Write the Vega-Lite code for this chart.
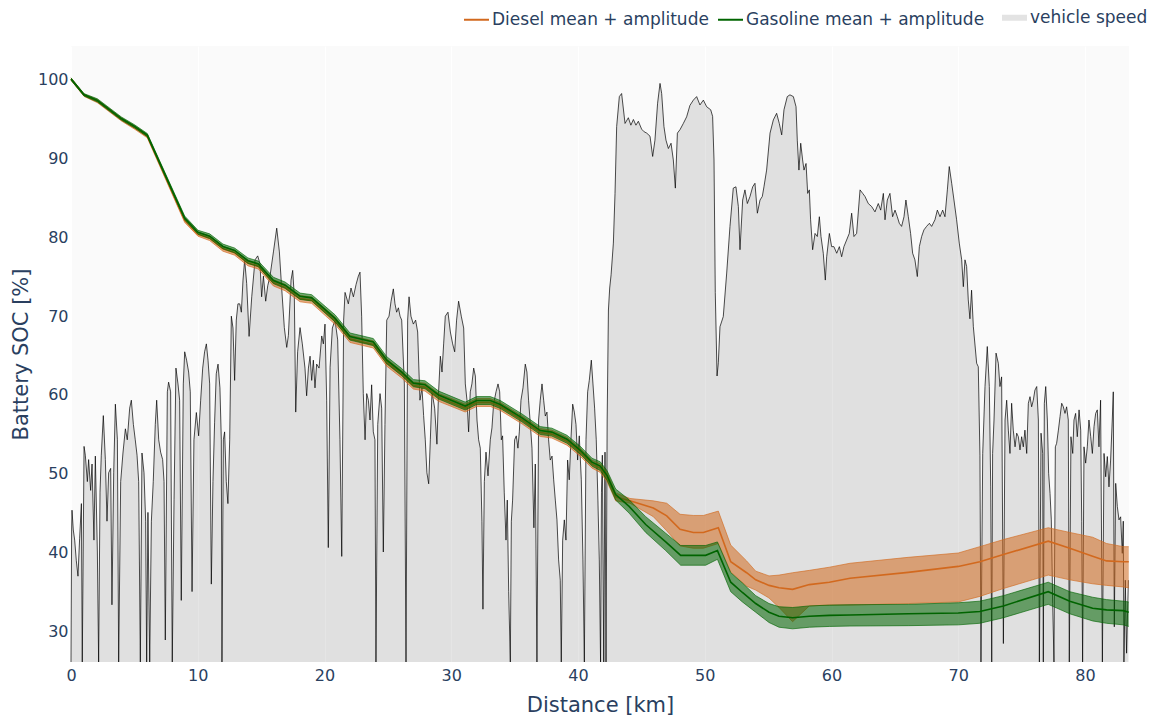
{
  "$schema": "https://vega.github.io/schema/vega-lite/v6.json",
  "width": 1058,
  "height": 616,
  "autosize": {"type": "none"},
  "padding": {"left": 71, "top": 46, "right": 34, "bottom": 55},
  "background": "#ffffff",
  "config": {
    "view": {"fill": "#fafafa", "stroke": null},
    "axis": {
      "domain": false,
      "ticks": false,
      "labelColor": "#2a3f5f",
      "labelFont": "DejaVu Sans",
      "labelFontSize": 16,
      "titleColor": "#2a3f5f",
      "titleFont": "DejaVu Sans",
      "titleFontSize": 21,
      "titleFontWeight": "normal"
    }
  },
  "datasets": {
    "diesel": [
      {"km": 0, "mean": 100, "lo": 99.85, "hi": 100.15},
      {"km": 1.03, "mean": 97.95, "lo": 97.8, "hi": 98.1},
      {"km": 2.08, "mean": 97.2, "lo": 97.0, "hi": 97.4},
      {"km": 3.97, "mean": 94.9, "lo": 94.7, "hi": 95.1},
      {"km": 5.02, "mean": 93.85, "lo": 93.65, "hi": 94.05},
      {"km": 6.02, "mean": 92.75, "lo": 92.55, "hi": 92.95},
      {"km": 8.97, "mean": 82.1, "lo": 81.85, "hi": 82.35},
      {"km": 10.02, "mean": 80.35, "lo": 80.1, "hi": 80.6},
      {"km": 10.94, "mean": 79.85, "lo": 79.55, "hi": 80.15},
      {"km": 11.99, "mean": 78.5, "lo": 78.2, "hi": 78.8},
      {"km": 12.91, "mean": 78.0, "lo": 77.7, "hi": 78.3},
      {"km": 13.96, "mean": 76.7, "lo": 76.35, "hi": 77.05},
      {"km": 14.78, "mean": 76.3, "lo": 75.95, "hi": 76.65},
      {"km": 15.97, "mean": 74.2, "lo": 73.8, "hi": 74.6},
      {"km": 16.89, "mean": 73.6, "lo": 73.2, "hi": 74.0},
      {"km": 18.07, "mean": 72.2, "lo": 71.8, "hi": 72.6},
      {"km": 18.99, "mean": 72.0, "lo": 71.6, "hi": 72.4},
      {"km": 20.83, "mean": 69.4, "lo": 68.95, "hi": 69.85},
      {"km": 22.01, "mean": 67.1, "lo": 66.65, "hi": 67.55},
      {"km": 23.85, "mean": 66.4, "lo": 65.95, "hi": 66.85},
      {"km": 24.91, "mean": 64.1, "lo": 63.65, "hi": 64.55},
      {"km": 26.09, "mean": 62.6, "lo": 62.15, "hi": 63.05},
      {"km": 27.01, "mean": 61.2, "lo": 60.75, "hi": 61.65},
      {"km": 27.93, "mean": 61.0, "lo": 60.5, "hi": 61.5},
      {"km": 29.0, "mean": 59.7, "lo": 59.2, "hi": 60.2},
      {"km": 31.1, "mean": 58.35, "lo": 57.85, "hi": 58.85},
      {"km": 32.0, "mean": 59.05, "lo": 58.55, "hi": 59.55},
      {"km": 33.08, "mean": 59.05, "lo": 58.55, "hi": 59.55},
      {"km": 33.87, "mean": 58.55, "lo": 58.05, "hi": 59.05},
      {"km": 35.58, "mean": 56.85, "lo": 56.35, "hi": 57.35},
      {"km": 37.02, "mean": 55.25, "lo": 54.75, "hi": 55.75},
      {"km": 37.94, "mean": 55.05, "lo": 54.55, "hi": 55.55},
      {"km": 39.13, "mean": 54.15, "lo": 53.65, "hi": 54.65},
      {"km": 40.18, "mean": 52.75, "lo": 52.25, "hi": 53.25},
      {"km": 41.1, "mean": 51.25, "lo": 50.75, "hi": 51.75},
      {"km": 41.75, "mean": 50.75, "lo": 50.2, "hi": 51.3},
      {"km": 42.3, "mean": 49.6, "lo": 49.0, "hi": 50.2},
      {"km": 42.97, "mean": 47.1, "lo": 46.6, "hi": 47.6},
      {"km": 44.1, "mean": 46.6, "lo": 46.3, "hi": 46.9},
      {"km": 45.94, "mean": 45.7, "lo": 44.6, "hi": 46.6},
      {"km": 47.0, "mean": 44.7, "lo": 42.8, "hi": 46.3},
      {"km": 48.05, "mean": 43.0, "lo": 40.9, "hi": 44.9},
      {"km": 49.1, "mean": 42.6, "lo": 40.6, "hi": 44.75},
      {"km": 49.89, "mean": 42.6, "lo": 40.6, "hi": 44.75},
      {"km": 51.07, "mean": 43.2, "lo": 41.2, "hi": 45.3},
      {"km": 52.05, "mean": 38.9, "lo": 37.6, "hi": 41.0},
      {"km": 53.3, "mean": 37.5, "lo": 35.8, "hi": 39.0},
      {"km": 54.02, "mean": 36.6, "lo": 35.3, "hi": 37.7},
      {"km": 55.07, "mean": 35.9, "lo": 34.3, "hi": 37.1},
      {"km": 55.86, "mean": 35.6, "lo": 33.1, "hi": 37.2},
      {"km": 56.93, "mean": 35.4, "lo": 31.3, "hi": 37.5},
      {"km": 58.25, "mean": 36.0, "lo": 33.3, "hi": 37.8},
      {"km": 59.83, "mean": 36.3, "lo": 33.4, "hi": 38.2},
      {"km": 61.46, "mean": 36.8, "lo": 33.4, "hi": 38.7},
      {"km": 66.05, "mean": 37.55, "lo": 33.6, "hi": 39.45},
      {"km": 70.0, "mean": 38.3, "lo": 33.8, "hi": 40.0},
      {"km": 71.7, "mean": 38.9, "lo": 34.5, "hi": 40.8},
      {"km": 73.56, "mean": 39.8, "lo": 35.5, "hi": 41.7},
      {"km": 77.1, "mean": 41.5, "lo": 37.2, "hi": 43.2},
      {"km": 78.8, "mean": 40.6, "lo": 36.6, "hi": 42.6},
      {"km": 80.6, "mean": 39.6, "lo": 36.1, "hi": 42.0},
      {"km": 81.7, "mean": 39.0, "lo": 35.9, "hi": 41.2},
      {"km": 83.02, "mean": 38.9, "lo": 35.7, "hi": 40.8},
      {"km": 83.45, "mean": 38.9, "lo": 35.6, "hi": 40.8}
    ],
    "gasoline": [
      {"km": 0, "mean": 100, "lo": 99.85, "hi": 100.15},
      {"km": 1.03, "mean": 98.0, "lo": 97.85, "hi": 98.15},
      {"km": 2.08, "mean": 97.3, "lo": 97.1, "hi": 97.5},
      {"km": 3.97, "mean": 95.0, "lo": 94.8, "hi": 95.2},
      {"km": 5.02, "mean": 94.0, "lo": 93.8, "hi": 94.2},
      {"km": 6.02, "mean": 92.9, "lo": 92.7, "hi": 93.1},
      {"km": 8.97, "mean": 82.4, "lo": 82.15, "hi": 82.65},
      {"km": 10.02, "mean": 80.6, "lo": 80.35, "hi": 80.85},
      {"km": 10.94, "mean": 80.1, "lo": 79.8, "hi": 80.4},
      {"km": 11.99, "mean": 78.8, "lo": 78.5, "hi": 79.1},
      {"km": 12.91, "mean": 78.3, "lo": 78.0, "hi": 78.6},
      {"km": 13.96, "mean": 77.0, "lo": 76.65, "hi": 77.35},
      {"km": 14.78, "mean": 76.6, "lo": 76.25, "hi": 76.95},
      {"km": 15.97, "mean": 74.5, "lo": 74.1, "hi": 74.9},
      {"km": 16.89, "mean": 73.9, "lo": 73.5, "hi": 74.3},
      {"km": 18.07, "mean": 72.5, "lo": 72.1, "hi": 72.9},
      {"km": 18.99, "mean": 72.3, "lo": 71.9, "hi": 72.7},
      {"km": 20.83, "mean": 69.7, "lo": 69.25, "hi": 70.15},
      {"km": 22.01, "mean": 67.4, "lo": 66.95, "hi": 67.85},
      {"km": 23.85, "mean": 66.7, "lo": 66.25, "hi": 67.15},
      {"km": 24.91, "mean": 64.4, "lo": 63.95, "hi": 64.85},
      {"km": 26.09, "mean": 62.9, "lo": 62.45, "hi": 63.35},
      {"km": 27.01, "mean": 61.5, "lo": 61.05, "hi": 61.95},
      {"km": 27.93, "mean": 61.3, "lo": 60.8, "hi": 61.8},
      {"km": 29.0, "mean": 60.0, "lo": 59.5, "hi": 60.5},
      {"km": 31.1, "mean": 58.6, "lo": 58.1, "hi": 59.1},
      {"km": 32.0, "mean": 59.3, "lo": 58.8, "hi": 59.8},
      {"km": 33.08, "mean": 59.3, "lo": 58.8, "hi": 59.8},
      {"km": 33.87, "mean": 58.8, "lo": 58.3, "hi": 59.3},
      {"km": 35.58, "mean": 57.1, "lo": 56.6, "hi": 57.6},
      {"km": 37.02, "mean": 55.5, "lo": 55.0, "hi": 56.0},
      {"km": 37.94, "mean": 55.3, "lo": 54.8, "hi": 55.8},
      {"km": 39.13, "mean": 54.4, "lo": 53.9, "hi": 54.9},
      {"km": 40.18, "mean": 53.0, "lo": 52.5, "hi": 53.5},
      {"km": 41.1, "mean": 51.5, "lo": 51.0, "hi": 52.0},
      {"km": 41.75, "mean": 51.0, "lo": 50.45, "hi": 51.55},
      {"km": 42.3, "mean": 49.8, "lo": 49.2, "hi": 50.4},
      {"km": 42.97, "mean": 47.4, "lo": 46.7, "hi": 48.1},
      {"km": 44.03, "mean": 45.9, "lo": 45.05, "hi": 46.75},
      {"km": 45.34, "mean": 43.6, "lo": 42.6, "hi": 44.6},
      {"km": 46.92, "mean": 41.4, "lo": 40.3, "hi": 42.5},
      {"km": 48.1, "mean": 39.7, "lo": 38.45, "hi": 40.95},
      {"km": 50.07, "mean": 39.7, "lo": 38.45, "hi": 40.95},
      {"km": 51.0, "mean": 40.3, "lo": 39.2, "hi": 41.4},
      {"km": 52.05, "mean": 36.3, "lo": 35.1, "hi": 37.5},
      {"km": 52.97, "mean": 35.0, "lo": 33.8, "hi": 36.2},
      {"km": 54.02, "mean": 33.6, "lo": 32.5, "hi": 34.6},
      {"km": 55.07, "mean": 32.5, "lo": 31.2, "hi": 33.6},
      {"km": 55.86, "mean": 32.0, "lo": 30.6, "hi": 33.2},
      {"km": 56.93, "mean": 31.8, "lo": 30.4, "hi": 33.1},
      {"km": 58.25, "mean": 32.0, "lo": 30.6, "hi": 33.3},
      {"km": 59.83, "mean": 32.1, "lo": 30.7, "hi": 33.4},
      {"km": 61.46, "mean": 32.15, "lo": 30.75, "hi": 33.45},
      {"km": 66.05, "mean": 32.3, "lo": 30.8, "hi": 33.5},
      {"km": 70.0, "mean": 32.4, "lo": 30.9, "hi": 33.7},
      {"km": 71.7, "mean": 32.6, "lo": 31.1, "hi": 33.9},
      {"km": 73.56, "mean": 33.3, "lo": 31.8, "hi": 34.6},
      {"km": 77.1, "mean": 35.1, "lo": 33.5, "hi": 36.3},
      {"km": 78.8, "mean": 33.9, "lo": 32.3, "hi": 35.1},
      {"km": 80.6, "mean": 33.0, "lo": 31.4, "hi": 34.4},
      {"km": 81.7, "mean": 32.8, "lo": 31.1, "hi": 34.1},
      {"km": 83.02, "mean": 32.7, "lo": 30.9, "hi": 33.9},
      {"km": 83.45, "mean": 32.5, "lo": 30.7, "hi": 33.8}
    ],
    "speed": [
      {"km": 0, "v": 0}, {"km": 0.05, "v": 30}, {"km": 0.08, "v": 34.5}, {"km": 0.18, "v": 30}, {"km": 0.29, "v": 27.7}, {"km": 0.42, "v": 23}, {"km": 0.55, "v": 19.5}, {"km": 0.68, "v": 28}, {"km": 0.82, "v": 36}, {"km": 0.89, "v": 0},
      {"km": 1.03, "v": 49}, {"km": 1.13, "v": 47}, {"km": 1.29, "v": 41}, {"km": 1.39, "v": 46}, {"km": 1.55, "v": 39}, {"km": 1.66, "v": 45}, {"km": 1.81, "v": 27.7}, {"km": 1.92, "v": 46.8}, {"km": 2.08, "v": 25}, {"km": 2.18, "v": 0},
      {"km": 2.29, "v": 38.6}, {"km": 2.39, "v": 47}, {"km": 2.55, "v": 56}, {"km": 2.71, "v": 46}, {"km": 2.84, "v": 32}, {"km": 2.97, "v": 43}, {"km": 3.13, "v": 44}, {"km": 3.23, "v": 13}, {"km": 3.37, "v": 43}, {"km": 3.5, "v": 58.6},
      {"km": 3.66, "v": 50.5}, {"km": 3.76, "v": 0}, {"km": 3.92, "v": 41}, {"km": 4.1, "v": 47.5}, {"km": 4.29, "v": 53}, {"km": 4.44, "v": 50.5}, {"km": 4.63, "v": 57.7}, {"km": 4.76, "v": 59.5}, {"km": 4.92, "v": 54}, {"km": 5.07, "v": 50.5},
      {"km": 5.21, "v": 47}, {"km": 5.34, "v": 41}, {"km": 5.47, "v": 0}, {"km": 5.6, "v": 47.5}, {"km": 5.76, "v": 43}, {"km": 5.89, "v": 32}, {"km": 5.97, "v": 0}, {"km": 6.07, "v": 34}, {"km": 6.21, "v": 0}, {"km": 6.34, "v": 32},
      {"km": 6.49, "v": 41}, {"km": 6.65, "v": 54}, {"km": 6.76, "v": 59.5}, {"km": 6.92, "v": 50.5}, {"km": 7.07, "v": 47.7}, {"km": 7.23, "v": 46}, {"km": 7.34, "v": 41}, {"km": 7.44, "v": 5}, {"km": 7.6, "v": 61.4}, {"km": 7.7, "v": 63.6},
      {"km": 7.86, "v": 61.4}, {"km": 7.99, "v": 0}, {"km": 8.13, "v": 37}, {"km": 8.28, "v": 66.8}, {"km": 8.44, "v": 63.2}, {"km": 8.57, "v": 59.5}, {"km": 8.7, "v": 14}, {"km": 8.86, "v": 63.2}, {"km": 8.97, "v": 70.5}, {"km": 9.12, "v": 68.6},
      {"km": 9.28, "v": 65.9}, {"km": 9.41, "v": 61.4}, {"km": 9.55, "v": 16}, {"km": 9.7, "v": 50.5}, {"km": 9.89, "v": 56.7}, {"km": 10.07, "v": 51.4}, {"km": 10.23, "v": 59.5}, {"km": 10.39, "v": 66.8}, {"km": 10.54, "v": 70.5}, {"km": 10.68, "v": 72.3},
      {"km": 10.81, "v": 68.6}, {"km": 10.94, "v": 63.2}, {"km": 11.07, "v": 17.7}, {"km": 11.2, "v": 41}, {"km": 11.33, "v": 54.5}, {"km": 11.46, "v": 65.5}, {"km": 11.6, "v": 67.7}, {"km": 11.75, "v": 62.3}, {"km": 11.86, "v": 50.5}, {"km": 11.91, "v": 0},
      {"km": 12.02, "v": 50.5}, {"km": 12.12, "v": 52.3}, {"km": 12.25, "v": 41}, {"km": 12.38, "v": 36}, {"km": 12.52, "v": 50.5}, {"km": 12.65, "v": 78.6}, {"km": 12.78, "v": 75.9}, {"km": 12.91, "v": 64}, {"km": 13.04, "v": 77.7}, {"km": 13.17, "v": 81.4},
      {"km": 13.31, "v": 81.4}, {"km": 13.44, "v": 79.5}, {"km": 13.57, "v": 86.8}, {"km": 13.7, "v": 91.4},
      {"km": 13.86, "v": 86}, {"km": 14.05, "v": 74}, {"km": 14.26, "v": 83}, {"km": 14.52, "v": 91.4}, {"km": 14.73, "v": 92.3}, {"km": 14.91, "v": 90.5}, {"km": 15.04, "v": 83}, {"km": 15.18, "v": 87.7}, {"km": 15.36, "v": 82}, {"km": 15.52, "v": 85.5},
      {"km": 15.7, "v": 87.7}, {"km": 15.97, "v": 93.2}, {"km": 16.23, "v": 98.6}, {"km": 16.44, "v": 93.2}, {"km": 16.62, "v": 85}, {"km": 16.83, "v": 76}, {"km": 17.02, "v": 71.5}, {"km": 17.15, "v": 74.2}, {"km": 17.36, "v": 86.8}, {"km": 17.49, "v": 89},
      {"km": 17.62, "v": 83}, {"km": 17.73, "v": 56.8}, {"km": 17.88, "v": 70.5}, {"km": 18.07, "v": 76}, {"km": 18.25, "v": 72.3}, {"km": 18.46, "v": 66.8}, {"km": 18.59, "v": 60.5}, {"km": 18.73, "v": 66.8}, {"km": 18.86, "v": 69.5}, {"km": 18.99, "v": 64},
      {"km": 19.12, "v": 68.6}, {"km": 19.25, "v": 62.3}, {"km": 19.38, "v": 67.7}, {"km": 19.57, "v": 66.8}, {"km": 19.78, "v": 74.1}, {"km": 19.91, "v": 72.3}, {"km": 20.04, "v": 76.8}, {"km": 20.17, "v": 59.5}, {"km": 20.3, "v": 26}, {"km": 20.44, "v": 67},
      {"km": 20.62, "v": 75.9}, {"km": 20.83, "v": 77.7}, {"km": 21.04, "v": 73.2}, {"km": 21.22, "v": 50.5}, {"km": 21.36, "v": 24}, {"km": 21.51, "v": 77.7}, {"km": 21.62, "v": 84}, {"km": 21.88, "v": 81.4}, {"km": 22.09, "v": 85}, {"km": 22.28, "v": 83},
      {"km": 22.49, "v": 85.8}, {"km": 22.67, "v": 87.7}, {"km": 22.8, "v": 88.6}, {"km": 22.93, "v": 78.6}, {"km": 23.06, "v": 61}, {"km": 23.2, "v": 50.5}, {"km": 23.33, "v": 61}, {"km": 23.46, "v": 59.5}, {"km": 23.59, "v": 55}, {"km": 23.72, "v": 63},
      {"km": 23.85, "v": 52.3}, {"km": 23.98, "v": 50.5}, {"km": 24.06, "v": 0}, {"km": 24.2, "v": 54}, {"km": 24.38, "v": 61}, {"km": 24.51, "v": 57.7}, {"km": 24.64, "v": 25}, {"km": 24.77, "v": 54}, {"km": 24.91, "v": 77.7}, {"km": 25.09, "v": 78.6},
      {"km": 25.25, "v": 82}, {"km": 25.43, "v": 84.8}, {"km": 25.56, "v": 81.4}, {"km": 25.69, "v": 79.5}, {"km": 25.83, "v": 80.5}, {"km": 25.96, "v": 78.6}, {"km": 26.09, "v": 77.7}, {"km": 26.3, "v": 63.2}, {"km": 26.43, "v": 0}, {"km": 26.56, "v": 77.7},
      {"km": 26.67, "v": 83}, {"km": 26.82, "v": 78.6}, {"km": 27.01, "v": 76.8}, {"km": 27.19, "v": 77.7}, {"km": 27.35, "v": 75}, {"km": 27.53, "v": 59.5},
      {"km": 27.69, "v": 62.3}, {"km": 27.82, "v": 56}, {"km": 27.95, "v": 50.5}, {"km": 28.08, "v": 43}, {"km": 28.22, "v": 40.5}, {"km": 28.35, "v": 50.5}, {"km": 28.48, "v": 61.4}, {"km": 28.69, "v": 57.7}, {"km": 28.87, "v": 49.5}, {"km": 29.0, "v": 61.4},
      {"km": 29.14, "v": 69.5}, {"km": 29.27, "v": 65.9}, {"km": 29.4, "v": 72.3}, {"km": 29.53, "v": 78.6}, {"km": 29.74, "v": 79.5}, {"km": 29.93, "v": 75}, {"km": 30.11, "v": 72.3}, {"km": 30.27, "v": 70.5}, {"km": 30.42, "v": 77.7}, {"km": 30.58, "v": 82},
      {"km": 30.79, "v": 78.6}, {"km": 30.98, "v": 75.9}, {"km": 31.11, "v": 63.2}, {"km": 31.24, "v": 59.5}, {"km": 31.37, "v": 52.3}, {"km": 31.5, "v": 61.4}, {"km": 31.63, "v": 63.2}, {"km": 31.77, "v": 66.8}, {"km": 31.9, "v": 65}, {"km": 32.03, "v": 55},
      {"km": 32.16, "v": 50.5}, {"km": 32.29, "v": 48.6}, {"km": 32.42, "v": 32}, {"km": 32.5, "v": 12}, {"km": 32.61, "v": 41}, {"km": 32.74, "v": 47.7}, {"km": 32.9, "v": 42.3}, {"km": 33.08, "v": 50.5}, {"km": 33.21, "v": 53.2}, {"km": 33.34, "v": 58.6},
      {"km": 33.53, "v": 61.4}, {"km": 33.69, "v": 63.2}, {"km": 33.82, "v": 61.4}, {"km": 33.95, "v": 50.5}, {"km": 34.05, "v": 51.4}, {"km": 34.18, "v": 38.6}, {"km": 34.32, "v": 27.7}, {"km": 34.42, "v": 36.8}, {"km": 34.53, "v": 16}, {"km": 34.66, "v": 0},
      {"km": 34.74, "v": 32}, {"km": 34.84, "v": 36.8}, {"km": 35.0, "v": 50.5}, {"km": 35.13, "v": 51.4}, {"km": 35.26, "v": 48.6}, {"km": 35.37, "v": 52.3}, {"km": 35.5, "v": 59.5}, {"km": 35.66, "v": 62.3}, {"km": 35.84, "v": 67.7}, {"km": 35.97, "v": 65.9},
      {"km": 36.1, "v": 59.5}, {"km": 36.24, "v": 54}, {"km": 36.37, "v": 48.6}, {"km": 36.52, "v": 30.5}, {"km": 36.63, "v": 45}, {"km": 36.76, "v": 0}, {"km": 36.89, "v": 55}, {"km": 37.02, "v": 59.5}, {"km": 37.16, "v": 63.2}, {"km": 37.29, "v": 59.5},
      {"km": 37.42, "v": 55.9}, {"km": 37.55, "v": 56.8}, {"km": 37.68, "v": 50.5}, {"km": 37.81, "v": 45.9}, {"km": 37.95, "v": 46.8}, {"km": 38.08, "v": 41.4}, {"km": 38.21, "v": 36.8}, {"km": 38.34, "v": 32.3}, {"km": 38.47, "v": 23.2}, {"km": 38.6, "v": 18.6},
      {"km": 38.68, "v": 0}, {"km": 38.79, "v": 27.7}, {"km": 38.92, "v": 32.3}, {"km": 39.05, "v": 27.7}, {"km": 39.18, "v": 45.9}, {"km": 39.31, "v": 41.4}, {"km": 39.44, "v": 50.5}, {"km": 39.58, "v": 58.6}, {"km": 39.71, "v": 56.8}, {"km": 39.84, "v": 54},
      {"km": 39.97, "v": 45.9}, {"km": 40.1, "v": 51.4}, {"km": 40.26, "v": 41.4}, {"km": 40.39, "v": 23.2}, {"km": 40.5, "v": 0}, {"km": 40.63, "v": 50.5}, {"km": 40.76, "v": 61.4}, {"km": 40.89, "v": 64}, {"km": 41.05, "v": 68.6}, {"km": 41.18, "v": 63.2},
      {"km": 41.31, "v": 57.7}, {"km": 41.44, "v": 50.5}, {"km": 41.57, "v": 36.8}, {"km": 41.68, "v": 23.2}, {"km": 41.78, "v": 0},
      {"km": 41.85, "v": 38.6}, {"km": 41.92, "v": 47}, {"km": 42.03, "v": 0}, {"km": 42.13, "v": 47.7}, {"km": 42.21, "v": 0}, {"km": 42.3, "v": 55}, {"km": 42.4, "v": 80}, {"km": 42.5, "v": 85}, {"km": 42.61, "v": 88}, {"km": 42.79, "v": 95.2},
      {"km": 42.92, "v": 106.5}, {"km": 43.05, "v": 121.7}, {"km": 43.26, "v": 128.5}, {"km": 43.44, "v": 129.2}, {"km": 43.71, "v": 122.4}, {"km": 43.97, "v": 123.7}, {"km": 44.17, "v": 122}, {"km": 44.37, "v": 123.3}, {"km": 44.57, "v": 122}, {"km": 44.76, "v": 122.9},
      {"km": 45.02, "v": 121.1}, {"km": 45.22, "v": 120.5}, {"km": 45.42, "v": 120.2}, {"km": 45.68, "v": 119.5}, {"km": 45.89, "v": 114.9}, {"km": 46.07, "v": 118.6}, {"km": 46.28, "v": 127}, {"km": 46.47, "v": 131.5}, {"km": 46.6, "v": 129.2}, {"km": 46.78, "v": 121.7},
      {"km": 46.94, "v": 118.6}, {"km": 47.13, "v": 116.7}, {"km": 47.34, "v": 117.9}, {"km": 47.52, "v": 114.1}, {"km": 47.68, "v": 107.7}, {"km": 47.84, "v": 120.2}, {"km": 48.05, "v": 121}, {"km": 48.31, "v": 122.4}, {"km": 48.57, "v": 123.9}, {"km": 48.83, "v": 126.5},
      {"km": 49.1, "v": 127.7}, {"km": 49.36, "v": 128.5}, {"km": 49.62, "v": 126.6}, {"km": 49.89, "v": 127.7}, {"km": 50.15, "v": 126.2}, {"km": 50.47, "v": 125.5}, {"km": 50.62, "v": 124}, {"km": 50.73, "v": 114.1}, {"km": 50.83, "v": 84}, {"km": 50.97, "v": 65},
      {"km": 51.07, "v": 68}, {"km": 51.2, "v": 76.2}, {"km": 51.46, "v": 78.5}, {"km": 51.73, "v": 88.4}, {"km": 51.99, "v": 99}, {"km": 52.25, "v": 107.7}, {"km": 52.46, "v": 108}, {"km": 52.65, "v": 103.5}, {"km": 52.78, "v": 93.7}, {"km": 52.99, "v": 105},
      {"km": 53.17, "v": 107.3}, {"km": 53.36, "v": 104.2}, {"km": 53.57, "v": 105.8}, {"km": 53.78, "v": 108}, {"km": 53.96, "v": 108.8}, {"km": 54.15, "v": 102}, {"km": 54.36, "v": 105}, {"km": 54.54, "v": 105.8}, {"km": 54.67, "v": 108}, {"km": 54.88, "v": 111.8},
      {"km": 55.15, "v": 120.2}, {"km": 55.41, "v": 123.2}, {"km": 55.67, "v": 124.7}, {"km": 55.88, "v": 122.4}, {"km": 56.07, "v": 119.8}, {"km": 56.25, "v": 125.5}, {"km": 56.51, "v": 128.5}, {"km": 56.72, "v": 128.9}, {"km": 56.99, "v": 128.5}, {"km": 57.2, "v": 126.2},
      {"km": 57.3, "v": 118.6}, {"km": 57.43, "v": 111.8}, {"km": 57.57, "v": 117.9}, {"km": 57.72, "v": 114.1}, {"km": 57.83, "v": 111.8}, {"km": 57.99, "v": 113.3}, {"km": 58.12, "v": 106.5}, {"km": 58.25, "v": 107.3}, {"km": 58.35, "v": 100.5}, {"km": 58.51, "v": 93.7},
      {"km": 58.7, "v": 97.4}, {"km": 58.88, "v": 96.7}, {"km": 59.04, "v": 101.2}, {"km": 59.17, "v": 96.7}, {"km": 59.35, "v": 92.9}, {"km": 59.51, "v": 86.8}, {"km": 59.62, "v": 92.1}, {"km": 59.83, "v": 97.4}, {"km": 60.01, "v": 94.4}, {"km": 60.19, "v": 94.4},
      {"km": 60.41, "v": 92.9}, {"km": 60.62, "v": 94.4}, {"km": 60.8, "v": 92.1}, {"km": 60.98, "v": 94.4}, {"km": 61.19, "v": 95.9}, {"km": 61.4, "v": 97.4}, {"km": 61.59, "v": 102}, {"km": 61.77, "v": 96.7}, {"km": 61.98, "v": 97.4}, {"km": 62.25, "v": 107.3},
      {"km": 62.46, "v": 106.5}, {"km": 62.64, "v": 105.8}, {"km": 62.9, "v": 104.2}, {"km": 63.17, "v": 103.5}, {"km": 63.43, "v": 102.3}, {"km": 63.69, "v": 104.2}, {"km": 63.88, "v": 102.7}, {"km": 64.09, "v": 106.5}, {"km": 64.22, "v": 100.5}, {"km": 64.4, "v": 105},
      {"km": 64.61, "v": 106.5}, {"km": 64.82, "v": 101.2}, {"km": 65.01, "v": 102.7}, {"km": 65.19, "v": 101.2}, {"km": 65.35, "v": 99.7}, {"km": 65.53, "v": 99}, {"km": 65.72, "v": 101.2}, {"km": 65.87, "v": 105}, {"km": 66.06, "v": 101.2}, {"km": 66.24, "v": 97.4},
      {"km": 66.4, "v": 92.9}, {"km": 66.58, "v": 91.4}, {"km": 66.77, "v": 87.6}, {"km": 66.93, "v": 94.4}, {"km": 67.11, "v": 96.7}, {"km": 67.29, "v": 98.2}, {"km": 67.5, "v": 99}, {"km": 67.72, "v": 99.7}, {"km": 67.9, "v": 99}, {"km": 68.16, "v": 100.5},
      {"km": 68.35, "v": 102.7}, {"km": 68.56, "v": 101.2}, {"km": 68.77, "v": 102.7}, {"km": 68.95, "v": 101.2}, {"km": 69.14, "v": 107.3}, {"km": 69.29, "v": 112.6}, {"km": 69.48, "v": 108.8}, {"km": 69.66, "v": 105}, {"km": 69.87, "v": 100.5}, {"km": 70.08, "v": 95.2},
      {"km": 70.27, "v": 91.4}, {"km": 70.4, "v": 85.3}, {"km": 70.53, "v": 91.4}, {"km": 70.66, "v": 89.9}, {"km": 70.79, "v": 82.3}, {"km": 70.92, "v": 78}, {"km": 71.05, "v": 84.5}, {"km": 71.19, "v": 76.2},
      {"km": 71.45, "v": 67.9}, {"km": 71.58, "v": 67.1}, {"km": 71.71, "v": 47}, {"km": 71.79, "v": 0}, {"km": 71.93, "v": 47.4}, {"km": 72.11, "v": 62.6}, {"km": 72.29, "v": 71.7}, {"km": 72.45, "v": 62.6}, {"km": 72.56, "v": 39.8}, {"km": 72.64, "v": 0},
      {"km": 72.71, "v": 47.4}, {"km": 72.82, "v": 55}, {"km": 72.98, "v": 70.2}, {"km": 73.16, "v": 67.9}, {"km": 73.29, "v": 62.6}, {"km": 73.42, "v": 64.8}, {"km": 73.56, "v": 4.2}, {"km": 73.69, "v": 55}, {"km": 73.82, "v": 59.5}, {"km": 73.95, "v": 52.7},
      {"km": 74.08, "v": 47.4}, {"km": 74.21, "v": 58.8}, {"km": 74.34, "v": 52.7}, {"km": 74.48, "v": 48.9}, {"km": 74.61, "v": 52}, {"km": 74.74, "v": 51.2}, {"km": 74.87, "v": 48.2}, {"km": 75.0, "v": 51.2}, {"km": 75.13, "v": 48.9}, {"km": 75.26, "v": 52.7},
      {"km": 75.4, "v": 47.4}, {"km": 75.53, "v": 58.8}, {"km": 75.66, "v": 60.3}, {"km": 75.79, "v": 58}, {"km": 75.92, "v": 59.5}, {"km": 76.05, "v": 61.8}, {"km": 76.19, "v": 62.6}, {"km": 76.32, "v": 55}, {"km": 76.4, "v": 0}, {"km": 76.53, "v": 52},
      {"km": 76.66, "v": 47.4}, {"km": 76.71, "v": 0}, {"km": 76.79, "v": 58.8}, {"km": 76.9, "v": 62.6}, {"km": 77.03, "v": 55}, {"km": 77.13, "v": 42.9}, {"km": 77.24, "v": 38.3}, {"km": 77.34, "v": 32.3}, {"km": 77.45, "v": 13.3}, {"km": 77.55, "v": 0},
      {"km": 77.66, "v": 48.9}, {"km": 77.76, "v": 49.7}, {"km": 77.9, "v": 52.7}, {"km": 78.03, "v": 55.8}, {"km": 78.16, "v": 58.8}, {"km": 78.29, "v": 58}, {"km": 78.42, "v": 56.5}, {"km": 78.55, "v": 58}, {"km": 78.68, "v": 55}, {"km": 78.76, "v": 0},
      {"km": 78.89, "v": 51.2}, {"km": 79.03, "v": 47.4}, {"km": 79.13, "v": 55}, {"km": 79.26, "v": 56.5}, {"km": 79.39, "v": 51.2}, {"km": 79.53, "v": 57.3}, {"km": 79.66, "v": 52.7}, {"km": 79.74, "v": 32}, {"km": 79.81, "v": 0}, {"km": 79.92, "v": 48.9},
      {"km": 80.05, "v": 45.2}, {"km": 80.18, "v": 48.9}, {"km": 80.31, "v": 55}, {"km": 80.45, "v": 51.2}, {"km": 80.58, "v": 47.4}, {"km": 80.71, "v": 53.5}, {"km": 80.84, "v": 56.5}, {"km": 80.97, "v": 57.3}, {"km": 81.1, "v": 48.9}, {"km": 81.23, "v": 59.5},
      {"km": 81.37, "v": 0}, {"km": 81.5, "v": 47.4}, {"km": 81.63, "v": 42.1}, {"km": 81.76, "v": 46.7}, {"km": 81.89, "v": 39.8}, {"km": 82.02, "v": 45.9}, {"km": 82.15, "v": 55}, {"km": 82.23, "v": 61.4}, {"km": 82.31, "v": 8}, {"km": 82.42, "v": 40.6},
      {"km": 82.55, "v": 35.3}, {"km": 82.68, "v": 32.3}, {"km": 82.81, "v": 33}, {"km": 82.94, "v": 24.7}, {"km": 83.02, "v": 32}, {"km": 83.07, "v": 0}, {"km": 83.18, "v": 18.6}, {"km": 83.28, "v": 2}, {"km": 83.42, "v": 18.6}
    ]
  },
  "encoding": {
    "x": {
      "field": "km",
      "type": "quantitative",
      "scale": {"domain": [0, 83.47], "nice": false, "zero": false},
      "axis": {
        "title": "Distance [km]",
        "values": [0, 10, 20, 30, 40, 50, 60, 70, 80],
        "grid": true,
        "gridColor": "#ffffff",
        "gridWidth": 1,
        "labelFlush": false,
        "labelPadding": 5,
        "titlePadding": 11
      }
    }
  },
  "layer": [
    {
      "data": {"name": "speed"},
      "layer": [
        {
          "mark": {"type": "area", "color": "#000000", "opacity": 0.1},
          "encoding": {"y": {"field": "v", "type": "quantitative", "scale": {"domain": [0, 140], "nice": false}, "axis": null}}
        },
        {
          "mark": {"type": "line", "color": "#000000", "strokeWidth": 0.7},
          "encoding": {"y": {"field": "v", "type": "quantitative", "scale": {"domain": [0, 140], "nice": false}, "axis": null}}
        }
      ]
    },
    {
      "layer": [
        {
          "data": {"name": "diesel"},
          "mark": {"type": "area", "color": "#d2691e", "opacity": 0.55},
          "encoding": {
            "y": {"field": "lo", "type": "quantitative", "scale": {"domain": [26.2, 104.18], "nice": false, "zero": false}, "axis": {"title": "Battery SOC [%]", "values": [30, 40, 50, 60, 70, 80, 90, 100], "grid": false, "labelPadding": 3, "titlePadding": 6}},
            "y2": {"field": "hi"}
          }
        },
        {
          "data": {"name": "diesel"},
          "mark": {"type": "line", "color": "#d2691e", "strokeWidth": 0.8, "opacity": 0.8},
          "encoding": {"y": {"field": "lo", "type": "quantitative", "scale": {"domain": [26.2, 104.18], "nice": false, "zero": false}, "axis": {"title": "Battery SOC [%]", "values": [30, 40, 50, 60, 70, 80, 90, 100], "grid": false, "labelPadding": 3, "titlePadding": 6}}}
        },
        {
          "data": {"name": "diesel"},
          "mark": {"type": "line", "color": "#d2691e", "strokeWidth": 0.8, "opacity": 0.8},
          "encoding": {"y": {"field": "hi", "type": "quantitative", "scale": {"domain": [26.2, 104.18], "nice": false, "zero": false}, "axis": {"title": "Battery SOC [%]", "values": [30, 40, 50, 60, 70, 80, 90, 100], "grid": false, "labelPadding": 3, "titlePadding": 6}}}
        },
        {
          "data": {"name": "diesel"},
          "mark": {"type": "line", "strokeWidth": 1.6},
          "encoding": {
            "y": {"field": "mean", "type": "quantitative", "scale": {"domain": [26.2, 104.18], "nice": false, "zero": false}, "axis": {"title": "Battery SOC [%]", "values": [30, 40, 50, 60, 70, 80, 90, 100], "grid": false, "labelPadding": 3, "titlePadding": 6}},
            "color": {
              "datum": "Diesel mean + amplitude",
              "type": "nominal",
              "scale": {"domain": ["Diesel mean + amplitude", "Gasoline mean + amplitude", "vehicle speed"], "range": ["#d2691e", "#006400", "#e3e3e3"]},
              "legend": {
                "title": null,
                "orient": "none",
                "legendX": 397,
                "legendY": -37,
                "direction": "horizontal",
                "symbolType": "stroke",
                "symbolSize": 625,
                "symbolStrokeWidth": 2,
                "symbolOpacity": 1,
                "labelFont": "DejaVu Sans",
                "labelFontSize": 17,
                "labelColor": "#2a3f5f",
                "labelLimit": 0,
                "labelOffset": 7,
                "columnPadding": 5,
                "encode": {"symbols": {"update": {"strokeWidth": {"signal": "datum.value === 'vehicle speed' ? 6 : 2"}}}}
              }
            }
          }
        },
        {
          "data": {"name": "gasoline"},
          "mark": {"type": "area", "color": "#006400", "opacity": 0.55},
          "encoding": {
            "y": {"field": "lo", "type": "quantitative", "scale": {"domain": [26.2, 104.18], "nice": false, "zero": false}, "axis": {"title": "Battery SOC [%]", "values": [30, 40, 50, 60, 70, 80, 90, 100], "grid": false, "labelPadding": 3, "titlePadding": 6}},
            "y2": {"field": "hi"}
          }
        },
        {
          "data": {"name": "gasoline"},
          "mark": {"type": "line", "color": "#006400", "strokeWidth": 0.8, "opacity": 0.8},
          "encoding": {"y": {"field": "lo", "type": "quantitative", "scale": {"domain": [26.2, 104.18], "nice": false, "zero": false}, "axis": {"title": "Battery SOC [%]", "values": [30, 40, 50, 60, 70, 80, 90, 100], "grid": false, "labelPadding": 3, "titlePadding": 6}}}
        },
        {
          "data": {"name": "gasoline"},
          "mark": {"type": "line", "color": "#006400", "strokeWidth": 0.8, "opacity": 0.8},
          "encoding": {"y": {"field": "hi", "type": "quantitative", "scale": {"domain": [26.2, 104.18], "nice": false, "zero": false}, "axis": {"title": "Battery SOC [%]", "values": [30, 40, 50, 60, 70, 80, 90, 100], "grid": false, "labelPadding": 3, "titlePadding": 6}}}
        },
        {
          "data": {"name": "gasoline"},
          "mark": {"type": "line", "strokeWidth": 1.6},
          "encoding": {
            "y": {"field": "mean", "type": "quantitative", "scale": {"domain": [26.2, 104.18], "nice": false, "zero": false}, "axis": {"title": "Battery SOC [%]", "values": [30, 40, 50, 60, 70, 80, 90, 100], "grid": false, "labelPadding": 3, "titlePadding": 6}},
            "color": {"datum": "Gasoline mean + amplitude", "type": "nominal"}
          }
        }
      ]
    }
  ],
  "resolve": {"scale": {"y": "independent"}}
}
